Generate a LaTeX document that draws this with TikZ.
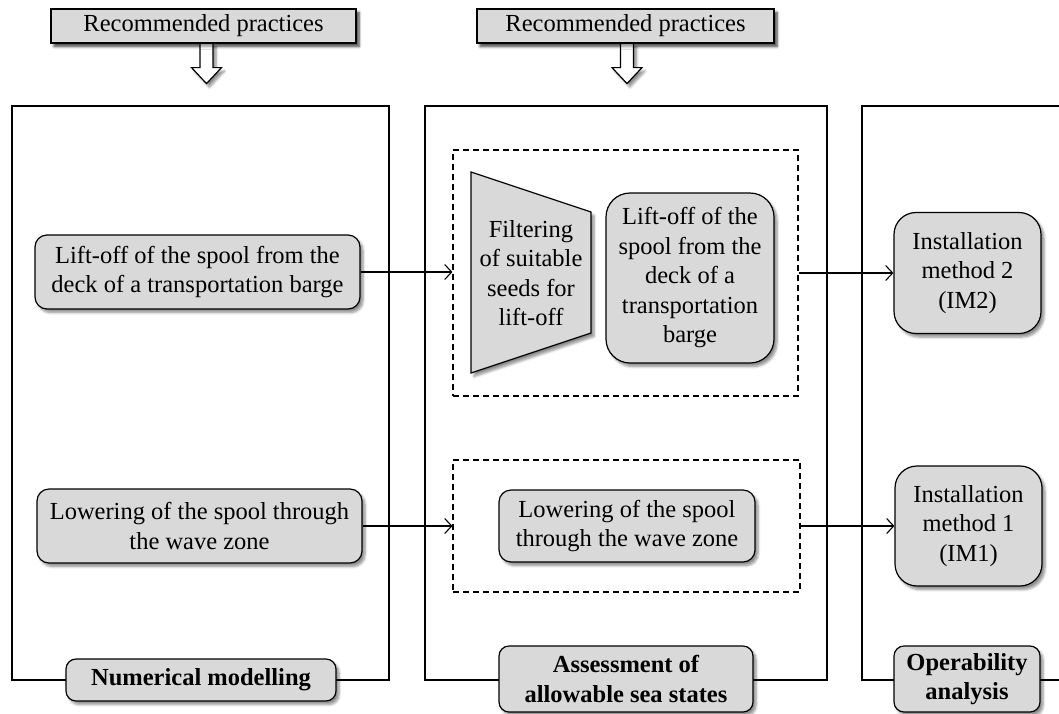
\documentclass[tikz,border=0pt]{standalone}
\usepackage{fontspec}
\setmainfont{Liberation Serif}
\usetikzlibrary{arrows.meta,shadows.blur,calc}
\definecolor{boxgray}{HTML}{D9D9D9}
\newcommand{\fs}{\fontsize{24.5}{29.5}\selectfont}
\begin{document}
\begin{tikzpicture}[x=1pt,y=-1pt,
  shad/.style={blur shadow={shadow xshift=3pt,shadow yshift=-3.5pt,shadow opacity=45,shadow blur steps=6,shadow blur radius=2.5pt}},
  gbox/.style={draw,line width=1.2pt,fill=boxgray,rounded corners=12pt,align=center,font=\fs,inner sep=0pt,shad},
  bigr/.style={gbox,rounded corners=24pt},
  rpbox/.style={draw,line width=1.2pt,fill=boxgray,align=center,font=\fs,inner sep=0pt,shad,minimum height=34pt},
  labbox/.style={gbox,rounded corners=10pt,font=\fs\bfseries},
  frame/.style={draw,line width=1.1pt},
  dashbox/.style={draw,line width=1.1pt,dash pattern=on 6pt off 4pt,inner sep=0pt},
  conn/.style={draw,line width=1.1pt,-{Straight Barb[length=7pt,width=15pt,line width=1.1pt]}},
  hollow/.style={draw,line width=1.2pt,fill=white,shad}
]
\useasboundingbox (0,0) rectangle (1059,713);

% frames
\draw[frame] (12,106) rectangle (389,680);
\draw[frame] (425,106) rectangle (827,680);
\draw[frame] (1059,106) -- (862,106) -- (862,680) -- (1059,680);

% recommended practices
\node[rpbox,minimum width=305pt] (rp1) at (203.5,26) {Recommended practices};
\node[rpbox,minimum width=297pt] (rp2) at (625.5,26) {Recommended practices};
\draw[hollow] ($(rp1.south)+(-3.5,-1)$) -- ++(0,25) -- ++(-8.5,0) -- ++(15,16) -- ++(15,-16) -- ++(-8.5,0) -- ++(0,-25);
\draw[hollow] ($(rp2.south)+(-5,-1)$) -- ++(0,25) -- ++(-8.5,0) -- ++(15,16) -- ++(15,-16) -- ++(-8.5,0) -- ++(0,-25);
\node[rpbox,minimum width=305pt] at (rp1) {Recommended practices};
\node[rpbox,minimum width=297pt] at (rp2) {Recommended practices};

% numerical modelling
\node[gbox,minimum width=325pt,minimum height=74pt] (lift1) at (197.5,272) {Lift-off of the spool from the\\deck of a transportation barge};
\node[gbox,minimum width=325pt,minimum height=74pt] (low1) at (199.5,526) {Lowering of the spool through\\the wave zone};

% assessment
\node[dashbox,minimum width=345pt,minimum height=246pt] (dashup) at (625.5,273) {};
\node[dashbox,minimum width=347pt,minimum height=132pt] (dashlow) at (626.5,526) {};
\draw[line width=1.2pt,fill=boxgray,shad] (471,172) -- (591,212) -- (591,333) -- (471,373) -- cycle;
\node[align=center,font=\fs,inner sep=0pt] (filter) at (531,273) {Filtering\\of suitable\\seeds for\\lift-off};
\node[bigr,minimum width=168pt,minimum height=170pt] (lift2) at (690,278) {Lift-off of the\\spool from the\\deck of a\\transportation\\barge};
\node[gbox,minimum width=256pt,minimum height=72pt] (low2) at (627,526) {Lowering of the spool\\through the wave zone};

% operability
\node[bigr,rounded corners=22pt,minimum width=147pt,minimum height=121pt] (im2) at (967.5,273) {Installation\\method 2\\(IM2)};
\node[bigr,rounded corners=22pt,minimum width=147pt,minimum height=120pt] (im1) at (968.5,526) {Installation\\method 1\\(IM1)};

% connectors
\draw[conn] (lift1.east) -- (lift1.east -| dashup.west);
\draw[conn] (dashup.east) -- (dashup.east -| im2.west);
\draw[conn] (low1.east) -- (low1.east -| dashlow.west);
\draw[conn] (dashlow.east) -- (dashlow.east -| im1.west);

% bottom labels
\node[labbox,minimum width=270pt,minimum height=42pt] (nm) at (201,680) {Numerical modelling};
\node[labbox,minimum width=254pt,minimum height=66pt] (asm) at (626,679) {Assessment of\\allowable sea states};
\node[labbox,minimum width=146pt,minimum height=66pt] (op) at (967,679) {Operability\\analysis};
\end{tikzpicture}
\end{document}
